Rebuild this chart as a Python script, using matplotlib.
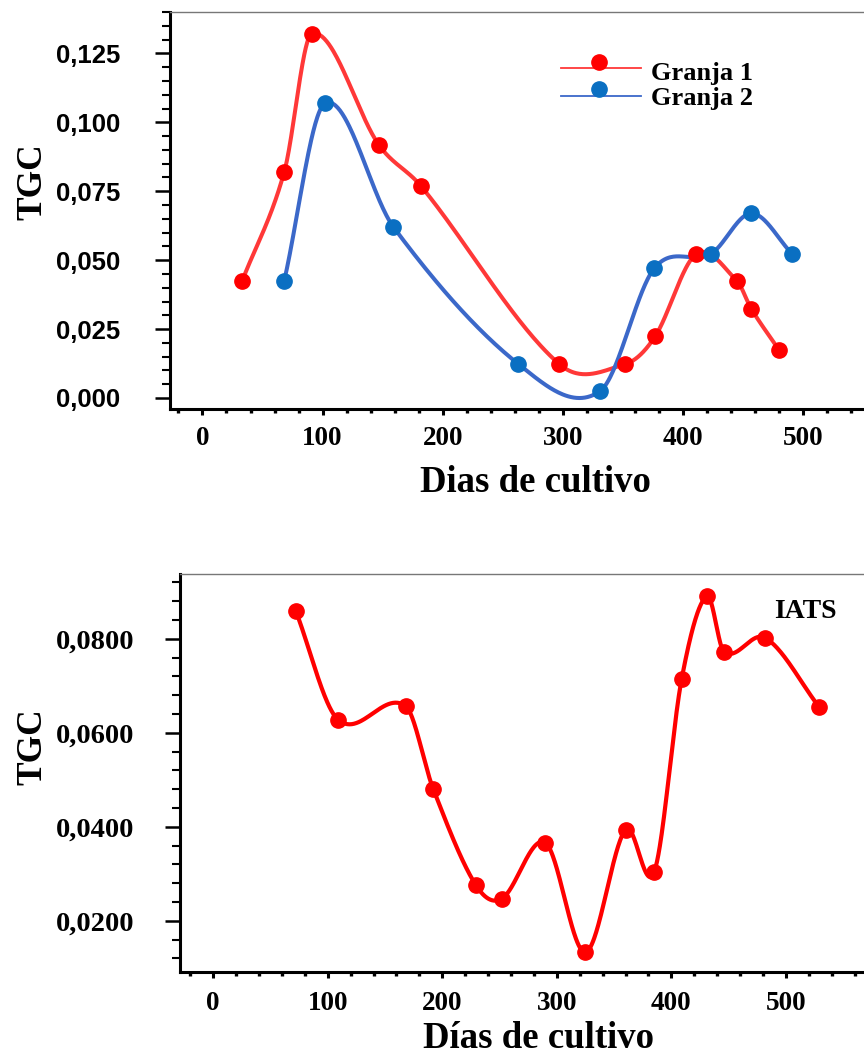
import numpy as np
import matplotlib
matplotlib.use('Agg')
import matplotlib.pyplot as plt
from matplotlib.ticker import MultipleLocator
from matplotlib.lines import Line2D

# Granja 1 / Granja 2 (top panel)
g1_days = [33, 68, 91, 147, 182, 297, 352, 377, 411, 445, 457, 480]
g1_tgc = [0.0424, 0.0819, 0.1322, 0.0917, 0.0768, 0.0123, 0.0123, 0.0225,
          0.0522, 0.0424, 0.0322, 0.0174]
g2_days = [68, 102, 159, 263, 331, 376, 423, 457, 491]
g2_tgc = [0.0424, 0.1069, 0.0620, 0.0123, 0.0025, 0.0470, 0.0522, 0.0670, 0.0522]

# IATS (bottom panel)
iats_days = [72, 109, 168, 192, 229, 252, 290, 325, 360, 385, 409, 431, 446, 482, 529]
iats_tgc = [0.0860, 0.0628, 0.0657, 0.0481, 0.0277, 0.0247, 0.0366, 0.0133,
            0.0394, 0.0304, 0.0715, 0.0891, 0.0772, 0.0802, 0.0655]

top_yticks = [0.0, 0.025, 0.05, 0.075, 0.1, 0.125]
top_ylabels = ['0,000', '0,025', '0,050', '0,075', '0,100', '0,125']
bot_yticks = [0.02, 0.04, 0.06, 0.08]
bot_ylabels = ['0,0200', '0,0400', '0,0600', '0,0800']
xticks = [0, 100, 200, 300, 400, 500]

RED = '#ff0000'
RED_LINE = '#ff3838'
BLUE = '#0a6fc2'
BLUE_LINE = '#3b68c9'
SERIF = 'Liberation Serif'
SANS = 'Liberation Sans'


def smooth(x, y, n=60):
    # cubic Hermite through the points, slopes from neighbouring points
    x = np.asarray(x, float); y = np.asarray(y, float)
    m = np.empty_like(y)
    m[1:-1] = (y[2:] - y[:-2]) / (x[2:] - x[:-2])
    m[0] = (y[1] - y[0]) / (x[1] - x[0])
    m[-1] = (y[-1] - y[-2]) / (x[-1] - x[-2])
    xs_all, ys_all = [], []
    for i in range(len(x) - 1):
        h = x[i + 1] - x[i]
        t = np.linspace(0, 1, n)
        h00 = 2 * t**3 - 3 * t**2 + 1; h10 = t**3 - 2 * t**2 + t
        h01 = -2 * t**3 + 3 * t**2; h11 = t**3 - t**2
        xs_all.append(x[i] + t * h)
        ys_all.append(h00 * y[i] + h10 * h * m[i] + h01 * y[i + 1] + h11 * h * m[i + 1])
    return np.concatenate(xs_all), np.concatenate(ys_all)


def style(ax, ylab_font, ysize, ypad, xpad):
    ax.spines['right'].set_visible(False)
    ax.spines['top'].set_color('#777777'); ax.spines['top'].set_linewidth(1.0)
    ax.spines['left'].set_linewidth(2.2); ax.spines['bottom'].set_linewidth(2.2)
    ax.xaxis.set_minor_locator(MultipleLocator(20))
    ax.tick_params(axis='y', which='major', direction='out', length=11, width=1.8, pad=ypad)
    ax.tick_params(axis='y', which='minor', direction='out', length=5.5, width=1.5)
    ax.tick_params(axis='x', which='major', direction='out', length=4.5, width=2.2, pad=xpad)
    ax.tick_params(axis='x', which='minor', direction='out', length=2.6, width=2.4)
    ax.tick_params(top=False, right=False, which='both')
    for lab in ax.get_yticklabels():
        lab.set_fontfamily(ylab_font); lab.set_fontweight('bold'); lab.set_fontsize(ysize)
    for lab in ax.get_xticklabels():
        lab.set_fontfamily(SERIF); lab.set_fontweight('bold'); lab.set_fontsize(19.5)


fig = plt.figure(figsize=(8.64, 10.55), dpi=100)

# ---- top panel
ax1 = fig.add_axes([0.1968, 0.6123, 1.0116 - 0.1968, 0.9886 - 0.6123])
for d, v, lc, mc in [(g1_days, g1_tgc, RED_LINE, RED), (g2_days, g2_tgc, BLUE_LINE, BLUE)]:
    xs, ys = smooth(d, v)
    ax1.plot(xs, ys, color=lc, lw=2.9, zorder=2)
    ax1.plot(d, v, 'o', color=mc, ms=11, zorder=3)
ax1.set_xlim(-27, 559)
ax1.set_ylim(-0.004, 0.140)
ax1.set_xticks(xticks)
ax1.set_yticks(top_yticks, top_ylabels)
ax1.yaxis.set_minor_locator(MultipleLocator(0.005))
style(ax1, SANS, 18.5, 25, 8)
ax1.set_xlabel('Dias de cultivo', family=SERIF, weight='bold', fontsize=26.5)
ax1.xaxis.label.set_verticalalignment('baseline')
ax1.xaxis.set_label_coords(0.519, -0.209)
ax1.set_ylabel('TGC', family=SERIF, weight='bold', fontsize=25.5)
ax1.yaxis.set_label_coords(-0.172, 0.572)

# legend drawn by hand: marker sits above the line
for (ly, my, ty, lc, mc, name) in [(0.859, 0.874, 0.846, RED_LINE, RED, 'Granja 1'),
                                   (0.788, 0.806, 0.781, BLUE_LINE, BLUE, 'Granja 2')]:
    ax1.add_line(Line2D([0.555, 0.669], [ly, ly], color=lc, lw=1.3, transform=ax1.transAxes))
    ax1.add_line(Line2D([0.610], [my], marker='o', color=mc, ms=11, transform=ax1.transAxes))
    ax1.text(0.683, ty, name, transform=ax1.transAxes, family=SERIF, weight='bold',
             fontsize=19, va='center', ha='left')

# ---- bottom panel
ax2 = fig.add_axes([0.2083, 0.0787, 1.0104 - 0.2083, 0.4559 - 0.0787])
xs, ys = smooth(iats_days, iats_tgc)
ax2.plot(xs, ys, color=RED, lw=3.0, zorder=2)
ax2.plot(iats_days, iats_tgc, 'o', color=RED, ms=11, zorder=3)
ax2.set_xlim(-29, 576)
ax2.set_ylim(0.0091, 0.0938)
ax2.set_xticks(xticks)
ax2.set_yticks(bot_yticks, bot_ylabels)
ax2.yaxis.set_minor_locator(MultipleLocator(0.004))
style(ax2, SERIF, 20.5, 22, 9)
ax2.set_xlabel('Días de cultivo', family=SERIF, weight='bold', fontsize=26.5)
ax2.xaxis.label.set_verticalalignment('baseline')
ax2.xaxis.set_label_coords(0.518, -0.191)
ax2.set_ylabel('TGC', family=SERIF, weight='bold', fontsize=25.5)
ax2.yaxis.set_label_coords(-0.188, 0.565)
ax2.text(0.902, 0.905, 'IATS', transform=ax2.transAxes, family=SERIF, weight='bold',
         fontsize=20, ha='center', va='center')

fig.savefig('out.png', dpi=100)
